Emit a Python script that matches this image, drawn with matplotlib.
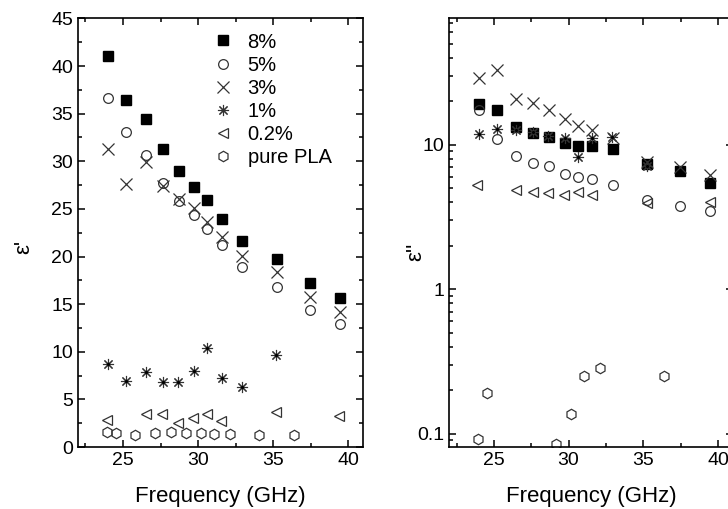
import numpy as np
import matplotlib.pyplot as plt
from matplotlib.ticker import MultipleLocator, LogLocator, FixedLocator, NullFormatter

plt.rcParams['font.family'] = ['Liberation Sans', 'DejaVu Sans']

# frequencies (GHz) shared by the 8%, 5% and 3% samples
freq = [24.0, 25.2, 26.5, 27.65, 28.7, 29.73, 30.6, 31.56, 32.95, 35.27, 37.47, 39.45]

# real part eps'
eps1_8 = [41.1, 36.45, 34.4, 31.3, 29.0, 27.3, 25.9, 23.95, 21.65, 19.7, 17.2, 15.65]
eps1_5 = [36.66, 33.05, 30.67, 27.76, 25.87, 24.37, 22.9, 21.2, 18.9, 16.8, 14.4, 12.9]
eps1_3 = [31.3, 27.6, 29.9, 27.4, 26.0, 25.07, 23.67, 22.0, 20.06, 18.35, 15.7, 14.2]
f1_1 = [24.0, 25.2, 26.55, 27.65, 28.67, 29.73, 30.6, 31.58, 32.93, 35.2]
eps1_1 = [8.68, 6.97, 7.88, 6.8, 6.86, 7.98, 10.4, 7.2, 6.27, 9.66]
f1_02 = [23.95, 26.5, 27.6, 28.67, 29.67, 30.56, 31.5, 35.2, 39.4]
eps1_02 = [2.84, 3.43, 3.43, 2.49, 3.08, 3.43, 2.73, 3.7, 3.29]
f1_pla = [23.95, 24.56, 25.83, 27.1, 28.2, 29.2, 30.18, 31.07, 32.1, 34.05, 36.38]
eps1_pla = [1.61, 1.43, 1.26, 1.43, 1.54, 1.43, 1.43, 1.36, 1.33, 1.22, 1.26]

# imaginary part eps''
eps2_8 = [19.2, 17.5, 13.3, 12.0, 11.4, 10.3, 9.78, 9.78, 9.38, 7.42, 6.56, 5.46]
eps2_5 = [17.3, 11.0, 8.34, 7.5, 7.1, 6.33, 6.0, 5.76, 5.25, 4.18, 3.8, 3.47]
eps2_3 = [29.1, 33.2, 20.8, 19.5, 17.3, 15.0, 13.6, 12.6, 11.2, 7.58, 7.0, 6.22]
f2_1 = [24.0, 25.24, 26.5, 27.65, 28.65, 29.77, 30.6, 31.56, 32.93, 35.27]
eps2_1 = [11.8, 12.8, 12.6, 12.2, 11.6, 11.2, 8.26, 11.2, 11.4, 7.11]
f2_02 = [23.9, 26.5, 27.6, 28.6, 29.7, 30.6, 31.56, 35.27, 39.47]
eps2_02 = [5.31, 4.85, 4.7, 4.66, 4.53, 4.7, 4.48, 3.97, 4.0]
f2_pla = [23.97, 24.53, 29.19, 30.19, 31.04, 32.11, 36.39]
eps2_pla = [0.0914, 0.192, 0.0843, 0.138, 0.253, 0.286, 0.253]

gray = '#333333'
ms = 7

fig = plt.figure(figsize=(7.28, 5.09), dpi=100)
ax1 = fig.add_axes([0.1071, 0.1218, 0.392, 0.842])
ax2 = fig.add_axes([0.6168, 0.1218, 0.39, 0.842])


def draw(ax, f8, e8, e5, e3, f1, e1, f02, e02, fpla, epla):
    ax.plot(f8, e8, 's', ms=ms - 0.5, color='black', mec='black', label='8%')
    ax.plot(f8, e5, 'o', ms=ms, mfc='none', mec=gray, mew=0.9, label='5%')
    ax.plot(f8, e3, 'x', ms=ms + 1, color=gray, mew=0.9, label='3%')
    ax.plot(f1, e1, marker=(8, 2, 0), ls='none', ms=ms + 1, color=gray, mew=0.8, label='1%')
    ax.plot(f1, e1, '.', ms=2.5, color='black')
    ax.plot(f02, e02, '<', ms=ms, mfc='none', mec=gray, mew=0.9, label='0.2%')
    ax.plot(fpla, epla, 'h', ms=ms + 0.5, mfc='none', mec=gray, mew=0.9, label='pure PLA')
    ax.set_xlim(22, 41)
    ax.xaxis.set_major_locator(MultipleLocator(5))
    ax.xaxis.set_minor_locator(MultipleLocator(2.5))
    ax.tick_params(which='both', direction='in', top=True, right=True, labelsize=14)
    ax.tick_params(which='major', length=5, width=1.1)
    ax.tick_params(which='minor', length=3, width=1.1)
    for s in ax.spines.values():
        s.set_linewidth(1.2)
    ax.set_xlabel('Frequency (GHz)', fontsize=16, labelpad=12)


draw(ax1, freq, eps1_8, eps1_5, eps1_3, f1_1, eps1_1, f1_02, eps1_02, f1_pla, eps1_pla)
ax1.set_ylim(0, 45)
ax1.yaxis.set_major_locator(MultipleLocator(5))
ax1.yaxis.set_minor_locator(MultipleLocator(2.5))
ax1.set_ylabel("ε'", fontsize=16)
ax1.yaxis.set_label_coords(-0.152, 0.467)
ax1.legend(loc='upper left', bbox_to_anchor=(0.418, 1.0), frameon=False, fontsize=14.5,
           handlelength=1.2, handletextpad=0.6, labelspacing=0.2, borderaxespad=0.3)

draw(ax2, freq, eps2_8, eps2_5, eps2_3, f2_1, eps2_1, f2_02, eps2_02, f2_pla, eps2_pla)
ax2.set_yscale('log')
ax2.set_ylim(0.081, 75)
ax2.yaxis.set_major_locator(FixedLocator([0.1, 1, 10]))
ax2.yaxis.set_major_formatter(plt.FuncFormatter(lambda v, p: '%g' % v))
ax2.yaxis.set_minor_locator(LogLocator(base=10, subs=np.arange(2, 10)))
ax2.yaxis.set_minor_formatter(NullFormatter())
ax2.set_ylabel("ε''", fontsize=16)
ax2.yaxis.set_label_coords(-0.08, 0.456)

fig.savefig('out.png', dpi=100)
